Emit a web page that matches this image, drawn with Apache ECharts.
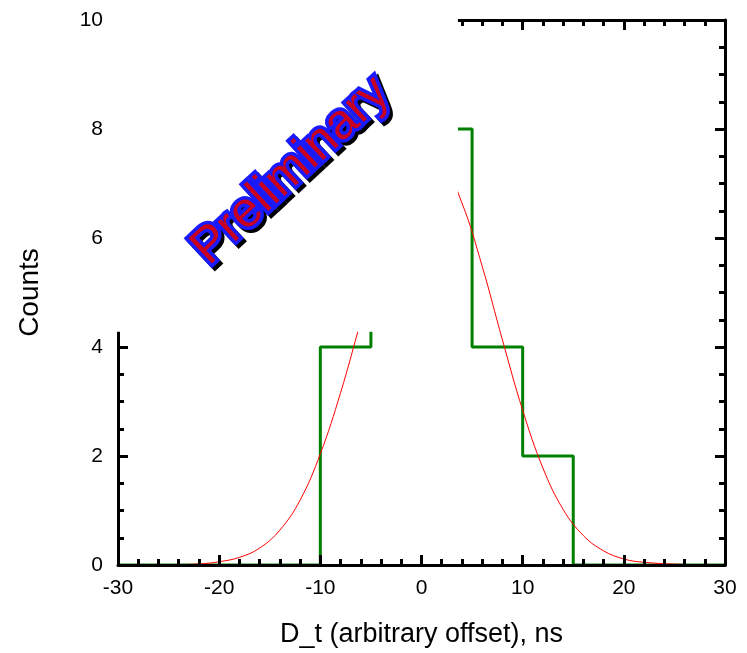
<!DOCTYPE html>
<html>
<head>
<meta charset="utf-8">
<script src="https://cdn.jsdelivr.net/npm/echarts@6/dist/echarts.min.js"></script>
<style>
  html, body { margin: 0; padding: 0; background: #fff; }
  #chart { width: 747px; height: 653px; }
</style>
</head>
<body>
<div id="chart"></div>
<script>
// histogram: left bin edges and their counts (drawn as steps)
const binEdges = [-30, -10, -5, 0, 5, 10, 15, 30];
const binCounts = [0, 4, 7, 8, 4, 2, 0, 0];

// gaussian fit curve
const fitX = [-30, -26, -22, -20, -18, -16, -14, -12, -10, -8, -6, -4, -2, 0, 2, 4, 6, 8, 10, 12, 14, 16, 18, 20, 22, 26, 30];
const fitY = [0, 0, 0.02, 0.06, 0.14, 0.31, 0.64, 1.19, 2.04, 3.16, 4.48, 5.81, 6.88, 7.44, 7.36, 6.64, 5.48, 4.13, 2.84, 1.78, 1.02, 0.54, 0.26, 0.11, 0.05, 0.01, 0];

const xTicks = [-30, -20, -10, 0, 10, 20, 30];
const yTicks = [0, 2, 4, 6, 8, 10];

// the white patch over the upper-left part of the plot ends here (data units)
const maskEdgeX = 3.6;
const maskEdgeY = 4.28;

const FONT = '"Liberation Sans", Arial, Helvetica, sans-serif';

const chart = echarts.init(document.getElementById('chart'));

const tickStyle = { show: true, inside: true, length: 10, lineStyle: { color: '#000', width: 3 } };
const minorStyle = { show: true, length: 6, lineStyle: { color: '#000', width: 3 } };
const lineStyle = { show: true, onZero: false, lineStyle: { color: '#000', width: 3 } };

const xBase = {
  type: 'value', min: xTicks[0], max: xTicks[xTicks.length - 1], interval: 10,
  axisLine: lineStyle, axisTick: tickStyle,
  minorTick: Object.assign({ splitNumber: 5 }, minorStyle),
  splitLine: { show: false }, z: 5
};
const yBase = {
  type: 'value', min: yTicks[0], max: yTicks[yTicks.length - 1], interval: 2,
  axisLine: lineStyle, axisTick: tickStyle,
  minorTick: Object.assign({ splitNumber: 4 }, minorStyle),
  splitLine: { show: false }, z: 5
};

chart.setOption({
  animation: false,
  backgroundColor: '#fff',
  grid: { left: 118, right: 22, top: 20, bottom: 86 },
  xAxis: [
    Object.assign({}, xBase, {
      position: 'bottom',
      name: 'D_t (arbitrary offset), ns',
      nameLocation: 'middle',
      nameGap: 56,
      nameTextStyle: { color: '#000', fontSize: 27, fontFamily: FONT },
      axisLabel: { color: '#000', fontSize: 21, fontFamily: FONT, margin: 13 }
    }),
    Object.assign({}, xBase, { position: 'top', axisLabel: { show: false } })
  ],
  yAxis: [
    Object.assign({}, yBase, {
      position: 'left',
      name: 'Counts',
      nameLocation: 'middle',
      nameGap: 74,
      nameTextStyle: { color: '#000', fontSize: 28, fontFamily: FONT },
      axisLabel: { color: '#000', fontSize: 21, fontFamily: FONT, margin: 15 }
    }),
    Object.assign({}, yBase, { position: 'right', axisLabel: { show: false } })
  ],
  series: [
    {
      type: 'line',
      step: 'end',
      data: binEdges.map((e, i) => [e, binCounts[i]]),
      showSymbol: false,
      lineStyle: { color: '#008000', width: 3 },
      z: 3
    },
    {
      type: 'line',
      smooth: 0.4,
      data: fitX.map((x, i) => [x, fitY[i]]),
      showSymbol: false,
      lineStyle: { color: '#ff0000', width: 1 },
      z: 4
    }
  ]
});

const maskRight = chart.convertToPixel({ xAxisIndex: 0 }, maskEdgeX);
const maskBottom = chart.convertToPixel({ yAxisIndex: 0 }, maskEdgeY);

const stampAngle = 43 * Math.PI / 180;
const stampFont = '50px ' + FONT;

chart.setOption({
  graphic: [
    {
      type: 'rect',
      z: 100,
      shape: { x: 107, y: 0, width: maskRight - 107, height: maskBottom },
      style: { fill: '#fff' }
    },
    {
      // drop shadow
      type: 'text',
      z: 101,
      x: 294,
      y: 174,
      rotation: stampAngle,
      style: {
        text: 'Preliminary', font: stampFont,
        fill: '#000', stroke: '#000', lineWidth: 7, lineJoin: 'round',
        align: 'center', verticalAlign: 'middle'
      }
    },
    {
      type: 'text',
      z: 102,
      x: 291,
      y: 171,
      rotation: stampAngle,
      style: {
        text: 'Preliminary', font: stampFont,
        fill: '#c80020', stroke: '#1a1aff', lineWidth: 7, lineJoin: 'round',
        strokeFirst: true,
        align: 'center', verticalAlign: 'middle'
      }
    }
  ]
});
</script>
</body>
</html>
